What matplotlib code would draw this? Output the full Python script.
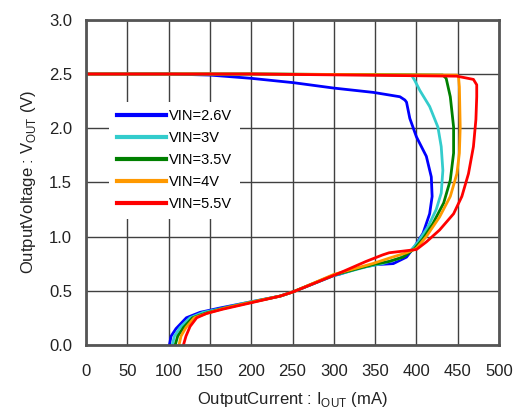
import matplotlib
matplotlib.use("Agg")
import matplotlib.pyplot as plt

plt.rcParams['font.family'] = ['Liberation Sans', 'DejaVu Sans']

# Output current (mA) / output voltage (V) traces
i_26 = [0, 100, 150, 200, 251, 300, 348, 380, 386, 388, 392, 400, 412, 418, 419, 416,
        408, 398, 388, 372, 351, 331, 306, 300, 251, 235, 195, 162, 138, 121.5, 109, 103, 101]
v_26 = [2.50, 2.50, 2.49, 2.46, 2.42, 2.37, 2.33, 2.29, 2.26, 2.24, 2.09, 1.92, 1.74, 1.55, 1.37, 1.21,
        1.03, 0.91, 0.81, 0.75, 0.74, 0.71, 0.65, 0.64, 0.49, 0.45, 0.39, 0.34, 0.30, 0.25, 0.15, 0.08, 0.0]

i_3 = [0, 200, 394, 398, 404, 416, 426, 430, 432, 430, 424, 414, 402, 392, 380, 359, 339,
       300, 251, 235, 195, 164, 142, 126, 114, 107, 104.5]
v_3 = [2.50, 2.50, 2.49, 2.44, 2.35, 2.20, 2.01, 1.83, 1.61, 1.40, 1.25, 1.09, 0.95, 0.86, 0.80, 0.75, 0.72,
       0.64, 0.49, 0.45, 0.39, 0.335, 0.30, 0.25, 0.16, 0.08, 0.0]

i_35 = [0, 200, 432, 436, 441, 445, 445, 441, 433, 420, 408, 398, 384, 367, 347,
        300, 251, 235, 195, 165, 144, 129, 118, 111, 108]
v_35 = [2.50, 2.50, 2.49, 2.46, 2.29, 2.01, 1.77, 1.52, 1.31, 1.12, 0.98, 0.89, 0.81, 0.77, 0.74,
        0.645, 0.49, 0.45, 0.385, 0.335, 0.29, 0.25, 0.16, 0.08, 0.0]

i_4 = [0, 200, 449, 451, 452, 453, 452, 449, 441, 428, 412, 400, 388, 367, 347,
       300, 251, 235, 195, 166, 146, 131, 121, 115, 112.6]
v_4 = [2.50, 2.50, 2.49, 2.47, 2.38, 2.01, 1.77, 1.58, 1.37, 1.18, 1.00, 0.89, 0.85, 0.80, 0.75,
       0.65, 0.49, 0.45, 0.385, 0.335, 0.29, 0.25, 0.16, 0.08, 0.0]

i_55 = [0, 200, 449, 469, 473, 473, 472, 469, 463, 455, 445, 428, 412, 400, 367, 359, 339,
        306, 251, 235, 195, 166, 146, 134, 126, 121, 118]
v_55 = [2.50, 2.50, 2.48, 2.45, 2.40, 2.29, 2.08, 1.83, 1.58, 1.37, 1.21, 1.06, 0.95, 0.88, 0.85, 0.83, 0.77,
        0.66, 0.49, 0.45, 0.38, 0.33, 0.29, 0.25, 0.17, 0.08, 0.0]

labels = ['VIN=2.6V', 'VIN=3V', 'VIN=3.5V', 'VIN=4V', 'VIN=5.5V']
colors = ['#0000ff', '#33cccc', '#008000', '#ff9900', '#ff0000']

x_ticks = list(range(0, 501, 50))
y_ticks = [0.0, 0.5, 1.0, 1.5, 2.0, 2.5, 3.0]

fig = plt.figure(figsize=(5.15, 4.13), dpi=100)
ax = fig.add_axes([0.167, 0.165, 0.802, 0.787])

series = [(i_26, v_26), (i_3, v_3), (i_35, v_35), (i_4, v_4), (i_55, v_55)]
for (xs, ys), lab, col in zip(series, labels, colors):
    ax.plot(xs, ys, color=col, lw=2, label=lab, solid_joinstyle='round')

ax.set_xlim(0, 500)
ax.set_ylim(0, 3.0)
ax.set_xticks(x_ticks)
ax.set_yticks(y_ticks)
ax.set_yticklabels([f'{v:.1f}' for v in y_ticks])
ax.tick_params(length=0, labelsize=12, colors='#222222')
ax.tick_params(axis='x', pad=14)
ax.tick_params(axis='y', pad=10)
ax.grid(True, color='#404040', lw=1)
ax.set_axisbelow(True)
for s in ax.spines.values():
    s.set_color('#555555')
    s.set_linewidth(2)

ax.set_xlabel('OutputCurrent : I$_{\\mathregular{OUT}}$ (mA)', fontsize=12, color='#222222', labelpad=8)
ax.set_ylabel('OutputVoltage : V$_{\\mathregular{OUT}}$ (V)', fontsize=12, color='#222222', labelpad=8)

leg = ax.legend(loc='upper left', bbox_to_anchor=(0.039, 0.77), frameon=True, fontsize=10.5,
                handlelength=3.4, labelspacing=0.55, handletextpad=0.2, borderpad=0.5)
leg.get_frame().set_facecolor('white')
leg.get_frame().set_edgecolor('none')
leg.get_frame().set_alpha(1)
for line in leg.get_lines():
    line.set_linewidth(3)

fig.savefig('out.png', dpi=100)
